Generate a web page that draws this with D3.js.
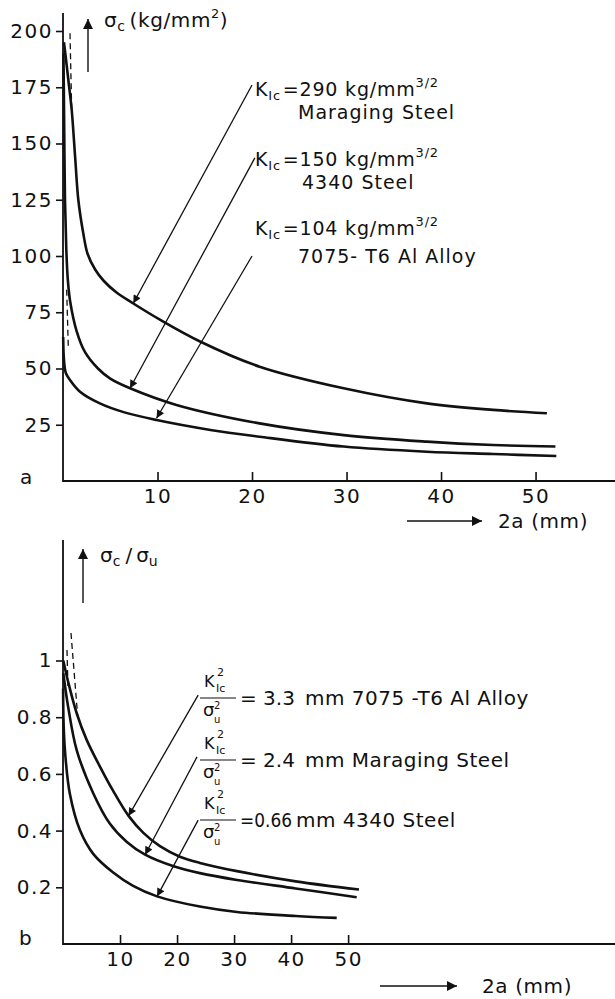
<!DOCTYPE html>
<html>
<head>
<meta charset="utf-8">
<script src="https://cdn.jsdelivr.net/npm/d3@7"></script>
<style>
body { margin: 0; background: #fff; }
text { font-family: "DejaVu Sans", sans-serif; fill: #111; }
</style>
</head>
<body>
<script>
// panel a: sigma_c (kg/mm^2) against crack length 2a (mm)
var xTicksA = [10, 20, 30, 40, 50];
var yTicksA = [25, 50, 75, 100, 125, 150, 175, 200];

var maragingA = [[0.1,195],[0.3,188],[0.6,177],[0.92,165],[1.3,143],[1.62,125],[2.15,110],[2.6,101],[3.4,94],[4.3,89],[5.6,84],[7.4,79],[10.3,71.6],[14.5,62],[20.8,50.8],[29.7,41.2],[38.5,34.5],[45.5,31.6],[51.2,30.1]];
var steel4340A = [[0.05,190],[0.12,160],[0.21,125],[0.35,103],[0.5,90],[0.75,80],[1.45,66.5],[2.3,57.5],[3.7,50],[5.0,45.5],[7.1,41.2],[12,33.8],[20.8,25.6],[29.7,20.4],[38.5,17.5],[45.5,16],[52.1,15.3]];
var alloy7075A = [[0.02,64],[0.1,54],[0.3,48],[0.74,44.9],[1.8,39.7],[3.9,34.5],[6.5,30.5],[9.9,27.1],[15.6,22.7],[20.8,19.7],[29.7,15.3],[38.5,13],[45.5,12],[52.2,11.1]];
var dashA = [[[0.74,199],[0.92,165]], [[0.39,85],[0.56,59.5]]];
// arrows: [start, tip] in data units
var arrowsA = [[[20.0,176],[7.44,79]], [[20.3,143.6],[7.09,41.2]], [[20.0,100],[9.9,27.9]]];
var kValuesA = ["290", "150", "104"];
var namesA = ["Maraging Steel", "4340 Steel", "7075- T6 Al Alloy"];

// panel b: sigma_c / sigma_u against 2a (mm)
var xTicksB = [10, 20, 30, 40, 50];
var yTicksB = [0.2, 0.4, 0.6, 0.8, 1];
var yTickLabelsB = ["0.2", "0.4", "0.6", "0.8", "1"];

var alloy7075B = [[0.05,1.0],[0.9,0.925],[2.4,0.814],[4.15,0.72],[6.5,0.625],[8.8,0.54],[11.5,0.452],[14.1,0.392],[17,0.345],[20.5,0.308],[24,0.286],[30.5,0.257],[40.8,0.221],[51.9,0.192]];
var maragingB = [[0.05,0.955],[0.9,0.837],[2.4,0.684],[5.3,0.532],[8.2,0.425],[11.2,0.36],[14.4,0.315],[19.4,0.274],[24,0.25],[30.5,0.226],[40.8,0.196],[51.5,0.165]];
var steel4340B = [[0.02,0.9],[0.1,0.78],[0.35,0.68],[1.2,0.53],[3.0,0.40],[5.3,0.318],[8.8,0.252],[12.3,0.205],[16.5,0.168],[24,0.132],[30.5,0.113],[40.8,0.099],[48,0.092]];
var dashB = [[[0.7,1.037],[0.88,0.896]], [[1.4,1.097],[2.63,0.79]]];
var arrowsB = [[[23.7,0.878],[11.5,0.452]], [[23.5,0.66],[14.4,0.315]], [[23.7,0.437],[16.5,0.168]]];
var ratiosB = ["= 3.3", "= 2.4", "=0.66"];
var namesB = ["mm 7075 -T6 Al Alloy", "mm Maraging Steel", "mm 4340 Steel"];

var svg = d3.select("body").append("svg")
    .attr("width", 615)
    .attr("height", 999);

var defs = svg.append("defs");
defs.append("marker")
    .attr("id", "head")
    .attr("viewBox", "0 0 10 10")
    .attr("refX", 10).attr("refY", 5)
    .attr("markerUnits", "userSpaceOnUse")
    .attr("markerWidth", 13).attr("markerHeight", 8)
    .attr("orient", "auto")
  .append("path").attr("d", "M0,0L10,5L0,10Z").attr("fill", "#111");
defs.append("marker")
    .attr("id", "bighead")
    .attr("viewBox", "0 0 10 10")
    .attr("refX", 10).attr("refY", 5)
    .attr("markerUnits", "userSpaceOnUse")
    .attr("markerWidth", 15).attr("markerHeight", 10)
    .attr("orient", "auto")
  .append("path").attr("d", "M0,0L10,5L0,10Z").attr("fill", "#111");

var xA = d3.scaleLinear().domain([0, 58.3]).range([63, 614]);
var yA = d3.scaleLinear().domain([0, 200]).range([481, 31]);
var xB = d3.scaleLinear().domain([0, 96.8]).range([63, 615]);
var yB = d3.scaleLinear().domain([0, 1]).range([944, 660.5]);

function drawPanel(g, x, y, xTicks, yTicks, yFmt, yTop, xEnd) {
  var ax = g.append("g")
      .attr("transform", "translate(0," + y(0) + ")")
      .call(d3.axisBottom(x).tickValues(xTicks).tickSize(-9).tickPadding(8).tickSizeOuter(0));
  ax.select(".domain").remove();
  ax.selectAll(".tick line").attr("stroke", "#111").attr("stroke-width", 1.6);
  ax.selectAll(".tick text").attr("font-size", 20).attr("fill", "#111")
      .attr("font-family", "DejaVu Sans").attr("letter-spacing", 1.5);

  var ay = g.append("g")
      .attr("transform", "translate(" + x(0) + ",0)")
      .call(d3.axisLeft(y).tickValues(yTicks).tickFormat(yFmt).tickSize(7).tickPadding(3).tickSizeOuter(0));
  ay.select(".domain").remove();
  ay.selectAll(".tick line").attr("stroke", "#111").attr("stroke-width", 1.6);
  ay.selectAll(".tick text").attr("font-size", 20).attr("fill", "#111")
      .attr("font-family", "DejaVu Sans").attr("letter-spacing", 1.5);

  g.append("path")
      .attr("d", "M" + x(0) + "," + yTop + "V" + y(0) + "H" + xEnd)
      .attr("fill", "none").attr("stroke", "#111").attr("stroke-width", 1.8);
}

function drawCurves(g, x, y, curves, dashes, arrows) {
  var line = d3.line()
      .x(function(d) { return x(d[0]); })
      .y(function(d) { return y(d[1]); })
      .curve(d3.curveCatmullRom.alpha(0.5));
  g.selectAll("path.curve")
      .data(curves)
    .enter().append("path")
      .attr("class", "curve")
      .attr("d", line)
      .attr("fill", "none").attr("stroke", "#111").attr("stroke-width", 2.6);
  g.selectAll("line.dash")
      .data(dashes)
    .enter().append("line")
      .attr("class", "dash")
      .attr("x1", function(d) { return x(d[0][0]); })
      .attr("y1", function(d) { return y(d[0][1]); })
      .attr("x2", function(d) { return x(d[1][0]); })
      .attr("y2", function(d) { return y(d[1][1]); })
      .attr("stroke", "#111").attr("stroke-width", 1.3).attr("stroke-dasharray", "6,4");
  g.selectAll("line.arrow")
      .data(arrows)
    .enter().append("line")
      .attr("class", "arrow")
      .attr("x1", function(d) { return x(d[0][0]); })
      .attr("y1", function(d) { return y(d[0][1]); })
      .attr("x2", function(d) { return x(d[1][0]); })
      .attr("y2", function(d) { return y(d[1][1]); })
      .attr("stroke", "#111").attr("stroke-width", 1.3)
      .attr("marker-end", "url(#head)");
}

// ---------- panel a ----------
var ga = svg.append("g");
drawPanel(ga, xA, yA, xTicksA, yTicksA, d3.format("d"), 13, 615);
drawCurves(ga, xA, yA, [maragingA, steel4340A, alloy7075A], dashA, arrowsA);

// y label
ga.append("line").attr("x1", 88).attr("y1", 72).attr("x2", 88).attr("y2", 19)
    .attr("stroke", "#111").attr("stroke-width", 1.4).attr("marker-end", "url(#bighead)");
var ylA = ga.append("text").attr("x", 104).attr("y", 27).attr("font-size", 20)
    .attr("letter-spacing", 0.6);
ylA.append("tspan").text("σ");
ylA.append("tspan").attr("font-size", 14).attr("dy", 4).text("c");
ylA.append("tspan").attr("dy", -4).attr("dx", 4).text("(kg/mm");
ylA.append("tspan").attr("font-size", 13).attr("dy", -9).text("2");
ylA.append("tspan").attr("dy", 9).text(")");

// x label
ga.append("line").attr("x1", 407).attr("y1", 521).attr("x2", 482).attr("y2", 521)
    .attr("stroke", "#111").attr("stroke-width", 1.4).attr("marker-end", "url(#bighead)");
ga.append("text").attr("x", 498).attr("y", 528).attr("font-size", 20)
    .attr("letter-spacing", 0.6).text("2a (mm)");
ga.append("text").attr("x", 20).attr("y", 484).attr("font-size", 20)
    .attr("font-family", "Liberation Serif").text("a");

// labels for the three materials
var labY = [96, 166, 235];
var nameY = [119, 189, 263];
var nameX = [298, 302, 298];
kValuesA.forEach(function(k, i) {
  var t = ga.append("text").attr("x", 255).attr("y", labY[i]).attr("font-size", 19)
      .attr("letter-spacing", 0.8);
  t.append("tspan").text("K");
  t.append("tspan").attr("font-size", 13).attr("dy", 4).text("Ic");
  t.append("tspan").attr("dy", -4).attr("dx", 2).text("=" + k + " kg/mm");
  t.append("tspan").attr("font-size", 13).attr("dy", -9).text("3/2");
  ga.append("text").attr("x", nameX[i]).attr("y", nameY[i]).attr("font-size", 19)
      .attr("letter-spacing", 1).text(namesA[i]);
});

// ---------- panel b ----------
var gb = svg.append("g");
drawPanel(gb, xB, yB, xTicksB, yTicksB, function(d, i) { return yTickLabelsB[i]; }, 540, 615);
drawCurves(gb, xB, yB, [alloy7075B, maragingB, steel4340B], dashB, arrowsB);

gb.append("line").attr("x1", 83).attr("y1", 603).attr("x2", 83).attr("y2", 549)
    .attr("stroke", "#111").attr("stroke-width", 1.4).attr("marker-end", "url(#bighead)");
var ylB = gb.append("text").attr("x", 100).attr("y", 562).attr("font-size", 20);
ylB.append("tspan").text("σ");
ylB.append("tspan").attr("font-size", 14).attr("dy", 4).text("c");
ylB.append("tspan").attr("dy", -4).attr("dx", 5).text("/");
ylB.append("tspan").attr("dx", 4).text("σ");
ylB.append("tspan").attr("font-size", 14).attr("dy", 4).text("u");

gb.append("line").attr("x1", 380).attr("y1", 986).attr("x2", 457).attr("y2", 986)
    .attr("stroke", "#111").attr("stroke-width", 1.4).attr("marker-end", "url(#bighead)");
gb.append("text").attr("x", 482).attr("y", 993).attr("font-size", 20)
    .attr("letter-spacing", 0.6).text("2a (mm)");
gb.append("text").attr("x", 19).attr("y", 945).attr("font-size", 20)
    .attr("font-family", "Liberation Serif").text("b");

var barY = [698, 760, 820];
var nameXB = [305, 305, 296];
ratiosB.forEach(function(r, i) {
  var b = barY[i];
  // numerator K with stacked superscript 2 and subscript Ic
  gb.append("text").attr("x", 204).attr("y", b - 11).attr("font-size", 16).text("K");
  gb.append("text").attr("x", 217).attr("y", b - 22).attr("font-size", 11).text("2");
  gb.append("text").attr("x", 216).attr("y", b - 6).attr("font-size", 11).text("Ic");
  gb.append("line").attr("x1", 200).attr("x2", 236).attr("y1", b).attr("y2", b)
      .attr("stroke", "#111").attr("stroke-width", 1.2);
  gb.append("text").attr("x", 203).attr("y", b + 18).attr("font-size", 18).text("σ");
  gb.append("text").attr("x", 214).attr("y", b + 11).attr("font-size", 10).text("2");
  gb.append("text").attr("x", 214).attr("y", b + 25).attr("font-size", 10).text("u");
  var rt = gb.append("text").attr("x", 240).attr("y", b + 7).attr("font-size", 20).text(r);
  if (i === 2) rt.attr("textLength", 52).attr("lengthAdjust", "spacingAndGlyphs");
  gb.append("text").attr("x", nameXB[i]).attr("y", b + 7).attr("font-size", 20)
      .attr("letter-spacing", 0.5).text(namesB[i]);
});
</script>
</body>
</html>
